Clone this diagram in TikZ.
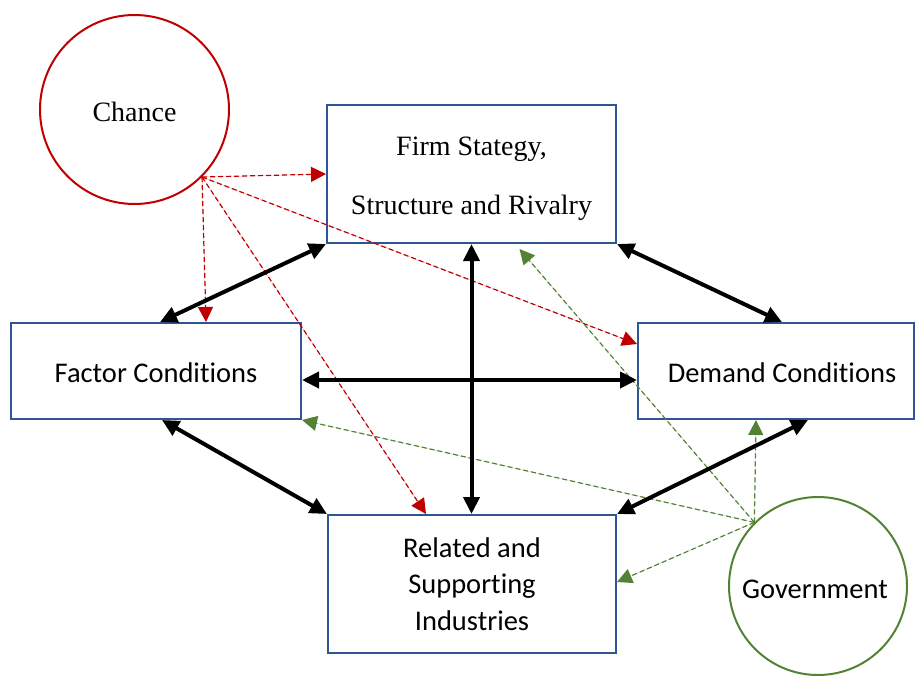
\documentclass[tikz,border=0pt]{standalone}
\usepackage{fontspec}
\setmainfont{Liberation Serif}
\newfontfamily\calibrilike[Ligatures=CommonOff]{Carlito}
\usetikzlibrary{arrows.meta}

\definecolor{boxblue}{HTML}{2F5597}
\definecolor{chancered}{HTML}{C00000}
\definecolor{govgreen}{HTML}{548235}

\tikzset{
  force/.style={rectangle, draw=boxblue, line width=2pt, inner sep=0pt},
  agent/.style={circle, line width=2pt, inner sep=0pt},
  % captions are placed by the baseline of their last line
  serifcap/.style={font=\fontsize{28}{59}\selectfont, align=center, anchor=base},
  sanscap/.style={font=\calibrilike\fontsize{28.5}{36.5}\selectfont, align=center, anchor=base},
  link/.style={line width=4pt,
    {Triangle[length=17pt,width=16pt]}-{Triangle[length=17pt,width=16pt]}},
  influence/.style={line width=1.2pt, dash pattern=on 5pt off 3pt,
    -{Triangle[length=15pt,width=15pt]}},
  chancelink/.style={influence, draw=chancered, fill=chancered},
  govlink/.style={influence, draw=govgreen, fill=govgreen},
}

\begin{document}
\begin{tikzpicture}[x=1pt, y=-1pt]
  \useasboundingbox (0,0) rectangle (915,675);

  % the four determinants
  \node[force, minimum width=289pt, minimum height=138pt] (firm)    at (471.5,174) {};
  \node[force, minimum width=290pt, minimum height=96pt]  (factor)  at (156,371)   {};
  \node[force, minimum width=276pt, minimum height=96pt]  (demand)  at (776,371)   {};
  \node[force, minimum width=288pt, minimum height=138pt] (related) at (472,584)   {};

  % the two outside influences
  \node[agent, draw=chancered, minimum size=189pt] (chance) at (134.5,109.5) {};
  \node[agent, draw=govgreen,  minimum size=178pt] (gov)    at (818,586)     {};

  % captions
  \node[serifcap] (firmtext)    at (471.5,214) {Firm Stategy,\\Structure and Rivalry};
  \node[serifcap] (chancetext)  at (134.5,121.5) {Chance};
  \node[sanscap]  (factortext)  at (156,382) {Factor Conditions};
  \node[sanscap]  (demandtext)  at (782,382) {Demand Conditions};
  \node[sanscap]  (relatedtext) at (472,630) {Related and\\Supporting\\Industries};
  \node[sanscap]  (govtext)     at (815,598) {Government};

  % chance acts on every determinant
  \coordinate (cfrom) at (chance.-45);
  \draw[chancelink] (cfrom) -- (firm.west);
  \draw[chancelink] (cfrom) -- ([xshift=50pt]factor.north);
  \draw[chancelink] (cfrom) -- ([yshift=27pt]demand.west);
  \draw[chancelink] (cfrom) -- ([xshift=-46pt]related.north);

  % government acts on every determinant
  \coordinate (gfrom) at (gov.135);
  \draw[govlink] (gfrom) -- ([xshift=-20pt]demand.south);
  \draw[govlink] (gfrom) -- ([yshift=2pt]related.east);
  \draw[govlink] (gfrom) -- (factor.south east);
  \draw[govlink] (gfrom) -- ([xshift=48pt,yshift=-5pt]firm.south);

  % mutual reinforcement of the determinants
  \draw[link] (firm.south west) -- ([xshift=4pt]factor.north);
  \draw[link] (firm.south east) -- ([xshift=6pt]demand.north);
  \draw[link] (firm.south) -- (firm.south |- related.north);
  \draw[link] ([yshift=-9pt]factor.east) -- ([yshift=-9pt]demand.west);
  \draw[link] ([xshift=6pt]factor.south) -- (related.north west);
  \draw[link] ([xshift=32pt]demand.south) -- (related.north east);
\end{tikzpicture}
\end{document}
